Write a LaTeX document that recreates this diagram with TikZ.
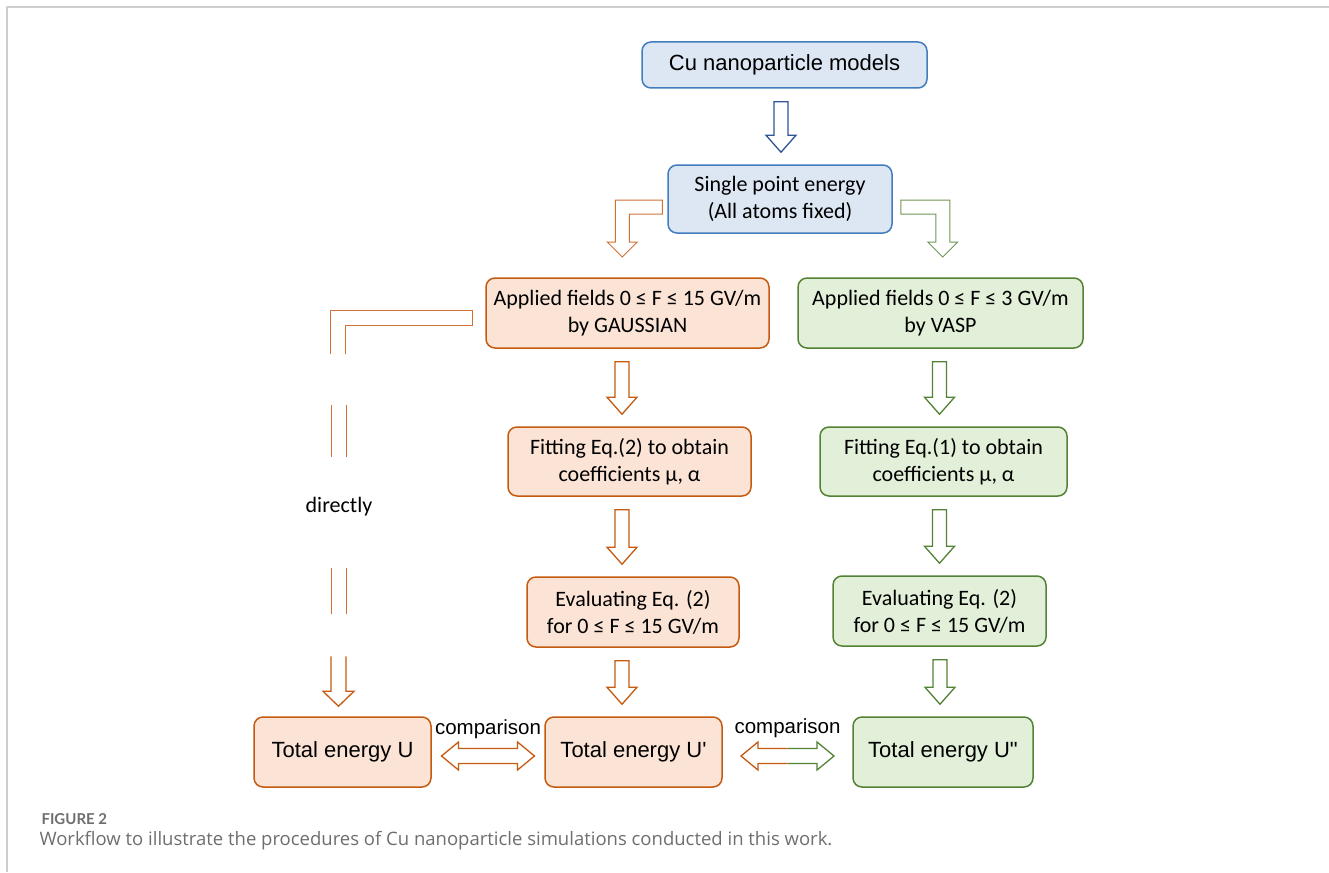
\documentclass[tikz,border=0pt]{standalone}
\usepackage{fontspec}
\setmainfont{Liberation Sans}
\newfontfamily\calib{Carlito}
\newfontfamily\capfont{Lato}
\newfontfamily\capsans{Open Sans}
\usetikzlibrary{calc}
\definecolor{obrd}{RGB}{197,90,17}
\definecolor{ofil}{RGB}{251,228,214}
\definecolor{gbrd}{RGB}{84,130,53}
\definecolor{gfil}{RGB}{226,240,217}
\definecolor{bbrd}{RGB}{65,125,190}
\definecolor{bfil}{RGB}{221,231,243}
\definecolor{barr}{RGB}{47,85,151}
\definecolor{capgray}{RGB}{110,110,110}
\definecolor{framegray}{RGB}{205,205,205}
\tikzset{
  box/.style={rounded corners=9pt, line width=1.5pt, align=center, inner sep=0pt},
  obox/.style={box, draw=obrd, fill=ofil},
  gbox/.style={box, draw=gbrd, fill=gfil},
  bbox/.style={box, draw=bbrd, fill=bfil},
  cal/.style={font=\calib\fontsize{22}{27}\selectfont},
  ari/.style={font=\fontsize{22}{26}\selectfont},
  blk/.style={line width=1.3pt, fill=white, line join=miter},
  lthin/.style={line width=1pt, line join=miter},
}
% block arrow down: [x offset]{style}{upper node}{lower node}
\newcommand\blkdown[4][0]{%
  \draw[blk,#2] let \p1=([xshift=#1pt]#3.south), \p2=(#4.north) in
    (\x1-7pt,\y1-13pt) -- (\x1-7pt,\y2+29pt) -- (\x1-15pt,\y2+29pt) -- (\x1,\y2+12pt)
    -- (\x1+15pt,\y2+29pt) -- (\x1+7pt,\y2+29pt) -- (\x1+7pt,\y1-13pt) -- cycle;}
% block arrow both ways: {left colour}{right colour}{left node}{right node}
\newcommand\blkboth[4]{%
  \draw[blk,draw=#1] let \p1=(#3.east), \p2=(#4.west), \n1={(\x1+\x2)/2} in
    (\n1,\y1+3.5pt) -- (\n1-29.5pt,\y1+3.5pt) -- (\n1-29.5pt,\y1+10pt) -- (\n1-46.5pt,\y1-4pt)
    -- (\n1-29.5pt,\y1-18pt) -- (\n1-29.5pt,\y1-11.5pt) -- (\n1,\y1-11.5pt);
  \draw[blk,draw=#2] let \p1=(#3.east), \p2=(#4.west), \n1={(\x1+\x2)/2} in
    (\n1,\y1+3.5pt) -- (\n1+29.5pt,\y1+3.5pt) -- (\n1+29.5pt,\y1+10pt) -- (\n1+46.5pt,\y1-4pt)
    -- (\n1+29.5pt,\y1-18pt) -- (\n1+29.5pt,\y1-11.5pt) -- (\n1,\y1-11.5pt);}
\begin{document}
\begin{tikzpicture}[x=1pt, y=-1pt, line join=round]
\useasboundingbox (0,0) rectangle (1329,872);
\draw[framegray, line width=1.6pt] (7,872) -- (7,7) -- (1329,7);
% boxes
\node[bbox, ari, minimum width=285pt, minimum height=46pt] (cu) at (784.5,65) {Cu nanoparticle models};
\node[bbox, cal, minimum width=224pt, minimum height=68pt] (sp) at (780,199) {Single point energy\\(All atoms fixed)};
\node[obox, cal, minimum width=283pt, minimum height=70pt] (oa) at (627.5,313) {Applied fields 0 ≤ F ≤ 15 GV/m\\by GAUSSIAN};
\node[gbox, cal, minimum width=285pt, minimum height=70pt] (ga) at (940.5,313) {Applied fields 0 ≤ F ≤ 3 GV/m\\by VASP};
\node[obox, cal, minimum width=243pt, minimum height=69pt] (of) at (629.5,461.5) {Fitting Eq.(2) to obtain\\coefficients μ, α};
\node[gbox, cal, minimum width=247pt, minimum height=69pt] (gf) at (943.5,461.5) {Fitting Eq.(1) to obtain\\coefficients μ, α};
\node[obox, cal, minimum width=212pt, minimum height=70pt] (oe) at (633,612) {Evaluating Eq. (2)\\for 0 ≤ F ≤ 15 GV/m};
\node[gbox, cal, minimum width=213pt, minimum height=70pt] (ge) at (939.5,611) {Evaluating Eq. (2)\\for 0 ≤ F ≤ 15 GV/m};
\node[obox, ari, minimum width=177pt, minimum height=70pt] (tu) at (342.5,752) {Total energy U};
\node[obox, ari, minimum width=177pt, minimum height=70pt] (tu1) at (633.5,752) {Total energy U\textquotesingle};
\node[gbox, ari, minimum width=180pt, minimum height=70pt] (tu2) at (943,752) {Total energy U\textquotedbl};
% labels
\node[font=\fontsize{20.5}{24}\selectfont] (cmp1) at ($(tu.east)!.5!(tu1.west)+(0,-23)$) {comparison};
\node[font=\fontsize{20.5}{24}\selectfont] (cmp2) at ($(tu1.east)!.5!(tu2.west)+(0,-24)$) {comparison};
\node[cal] (dir) at (339,507) {directly};
% arrows
\blkdown[-3.5]{draw=barr}{cu}{sp}
\draw[lthin, draw=obrd!85] ([shift={(-5,1)}]sp.west) -- ++(-47,0) -- ++(0,42) -- ++(-8,0) -- ++(15,15)
  -- ++(15,-15) -- ++(-8,0) -- ++(0,-28) -- ++(33,0) -- cycle;
\draw[lthin, draw=gbrd!85] ([shift={(8,1)}]sp.east) -- ++(49,0) -- ++(0,42) -- ++(8,0) -- ++(-15,15)
  -- ++(-15,-15) -- ++(8,0) -- ++(0,-28) -- ++(-35,0) -- cycle;
\blkdown[-5.5]{draw=obrd}{oa}{of}
\blkdown[-7.5]{draw=obrd}{of}{oe}
\blkdown[-11]{draw=obrd}{oe}{tu1}
\blkdown[-1]{draw=gbrd}{ga}{gf}
\blkdown[-4]{draw=gbrd}{gf}{ge}
\blkdown[0.5]{draw=gbrd}{ge}{tu2}
\blkboth{obrd}{obrd}{tu}{tu1}
\blkboth{obrd}{gbrd}{tu1}{tu2}
% the "directly" arrow
\draw[lthin, draw=obrd!85] ([shift={(-140,41)}]oa.west) -- ++(0,-29) -- ++(127,0) -- ++(0,-15) -- ++(-142,0) -- ++(0,44);
\foreach \a/\b in {405/457,568/614} \draw[lthin, draw=obrd!85] (331,\a) -- (331,\b) (346,\a) -- (346,\b);
\draw[blk, draw=obrd] ([shift={(-11.5,-60)}]tu.north) -- ++(0,35) -- ++(-8,0) -- ++(15.5,15) -- ++(15.5,-15) -- ++(-8,0) -- ++(0,-35);
% caption
\node[anchor=west, text=capgray, font=\capfont\bfseries\fontsize{15}{18}\selectfont] (fig) at (38,819) {FIGURE 2};
\node[anchor=west, text=capgray, font=\capsans\fontsize{18.5}{22}\selectfont] (cap) at (36,841) {Workflow to illustrate the procedures of Cu nanoparticle simulations conducted in this work.};
\end{tikzpicture}
\end{document}
